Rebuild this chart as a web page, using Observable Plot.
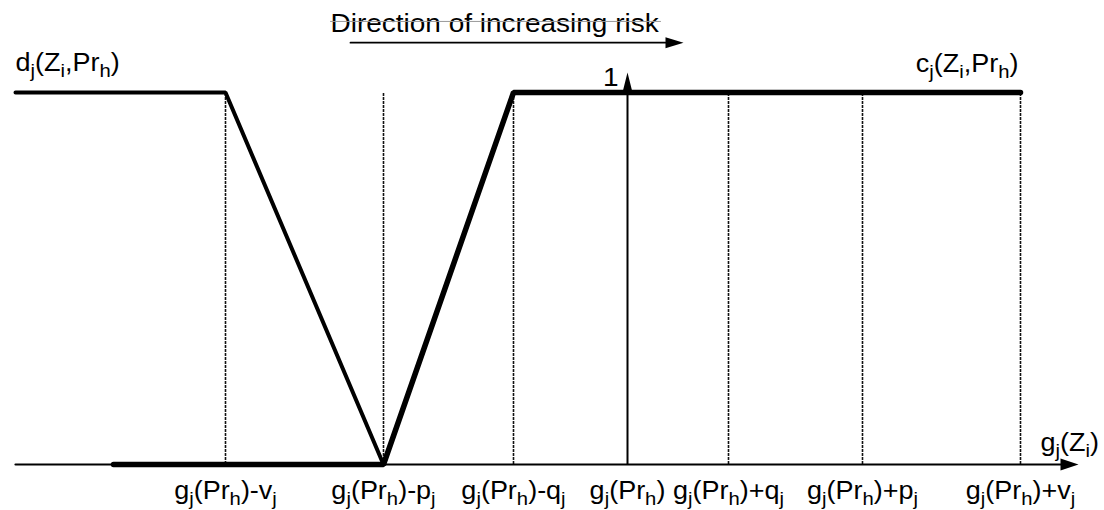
<!DOCTYPE html>
<html>
<head>
<meta charset="utf-8">
<script src="https://cdn.jsdelivr.net/npm/d3@7"></script>
<script src="https://cdn.jsdelivr.net/npm/@observablehq/plot@0.6"></script>
<style>
  html, body { margin: 0; padding: 0; background: #fff; }
  #chart { width: 1104px; height: 510px; }
</style>
</head>
<body>
<div id="chart"></div>
<script>
// ---- data (x in abstract units, g_j(Pr_h) = 0) ----
const tickLabels = ["g_j(Pr_h)-v_j", "g_j(Pr_h)-p_j", "g_j(Pr_h)-q_j", "g_j(Pr_h)", "g_j(Pr_h)+q_j", "g_j(Pr_h)+p_j", "g_j(Pr_h)+v_j"];
const tickPositions = [-4.02, -2.44, -1.14, 0, 1.01, 2.35, 3.93];
const dashedPositions = [-4.02, -2.44, -1.14, 1.01, 2.35, 3.93];
// concordance index c_j
const cX = [-5.14, -2.44, -1.14, 3.93];
const cY = [0, 0, 1, 1];
// discordance index d_j
const dX = [-6.12, -4.02, -2.44];
const dY = [1, 1, 0];
// axis extent
const axisX = [-6.12, 4.33];
const axisHeadX = [4.33];
// direction arrow
const dirX = [-2.77, 0.38];
const dirY = 1.134;
const dirRuleX = [-2.97, 0.33];
const dirRuleY = 1.191;
const dirLabel = "Direction of increasing risk";
const xAxisLabel = "g_j(Z_i)";
const cLabel = "c_j(Z_i,Pr_h)";
const dLabel = "d_j(Z_i,Pr_h)";
const oneLabel = "1";

const F = 25;
const cData = cX.map((x, i) => ({x, y: cY[i]}));
const dData = dX.map((x, i) => ({x, y: dY[i]}));
const ticks = tickPositions.map((x, i) => ({x, label: tickLabels[i]}));

const chart = Plot.plot({
  width: 1104,
  height: 510,
  marginLeft: 0,
  marginRight: 0,
  marginTop: 92,
  marginBottom: 46,
  x: {domain: [-6.27, 4.77], axis: null},
  y: {domain: [0, 1], axis: null},
  style: {fontFamily: "'Liberation Sans', Arial, Helvetica, sans-serif", fontSize: F + "px", background: "white", color: "black"},
  marks: [
    // dashed verticals
    Plot.ruleX(dashedPositions, {x: d => d, y1: 0, y2: 1, stroke: "#111", strokeWidth: 1.6, strokeDasharray: "3,1"}),
    // horizontal axis
    Plot.line(axisX.map(x => ({x, y: 0})), {x: "x", y: "y", stroke: "black", strokeWidth: 2.2}),
    Plot.vector(axisHeadX, {x: d => d, y: 0, length: 18, rotate: 90, r: 6, shape: "spike", anchor: "start", fill: "black", stroke: "none"}),
    // vertical axis at g_j(Pr_h)
    Plot.ruleX([0], {x: d => d, y1: 0, y2: 1, stroke: "black", strokeWidth: 2}),
    Plot.vector([0], {x: d => d, y: 1, length: 20, rotate: 0, r: 5, shape: "spike", anchor: "start", fill: "black", stroke: "none"}),
    // d_j
    Plot.line(dData, {x: "x", y: "y", stroke: "black", strokeWidth: 4, strokeLinecap: "round", strokeLinejoin: "miter"}),
    // c_j
    Plot.line(cData, {x: "x", y: "y", stroke: "black", strokeWidth: 5.5, strokeLinecap: "round", strokeLinejoin: "miter"}),
    // direction arrow
    Plot.line(dirX.map(x => ({x, y: dirY})), {x: "x", y: "y", stroke: "black", strokeWidth: 1.8}),
    Plot.vector([dirX[1]], {x: d => d, y: dirY, length: 18, rotate: 90, r: 5.5, shape: "spike", anchor: "start", fill: "black", stroke: "none"}),
    // labels
    Plot.text(ticks, {x: "x", y: 0, text: "label", dy: 26, textAnchor: "middle", fill: "black", className: "sub"}),
    Plot.text([xAxisLabel], {x: 4.13, y: 0, text: d => d, dy: -22, textAnchor: "start", fill: "black", className: "sub"}),
    Plot.text([dLabel], {x: -6.12, y: 1, text: d => d, dy: -30, textAnchor: "start", fill: "black", className: "sub"}),
    Plot.text([cLabel], {x: 3.91, y: 1, text: d => d, dy: -29, textAnchor: "end", fill: "black", className: "sub"}),
    Plot.text([oneLabel], {x: 0, y: 1, text: d => d, dx: -9, dy: -15, textAnchor: "end", fill: "black"}),
    Plot.text([dirLabel], {x: -2.97, y: 1, text: d => d, dy: -69, textAnchor: "start", fill: "black"}),
    // faint line through the title
    Plot.line(dirRuleX.map(x => ({x, y: dirRuleY})), {x: "x", y: "y", stroke: "#999", strokeWidth: 1})
  ]
});

// convert "_x" markers into subscript tspans
const NS = "http://www.w3.org/2000/svg";
const subSize = F * 0.75;
const shift = 6.5;
chart.querySelectorAll("g.sub text").forEach(t => {
  const s = t.textContent;
  if (!s.includes("_")) return;
  t.textContent = "";
  let lowered = false;
  s.split(/(_.)/).forEach(p => {
    if (!p) return;
    const ts = document.createElementNS(NS, "tspan");
    if (p[0] === "_") {
      ts.textContent = p.slice(1);
      ts.setAttribute("font-size", subSize);
      if (!lowered) ts.setAttribute("dy", shift);
      lowered = true;
    } else {
      ts.textContent = p;
      if (lowered) ts.setAttribute("dy", -shift);
      lowered = false;
    }
    t.appendChild(ts);
  });
});
// the reference lettering is slightly wider than Liberation Sans
chart.querySelectorAll("text").forEach(t => {
  const tr = t.getAttribute("transform") || "";
  const sx = t.closest("g.sub") ? 1.08 : 1.12;
  t.setAttribute("transform", (tr + ` scale(${sx},1)`).trim());
});

document.getElementById("chart").appendChild(chart);
</script>
</body>
</html>
